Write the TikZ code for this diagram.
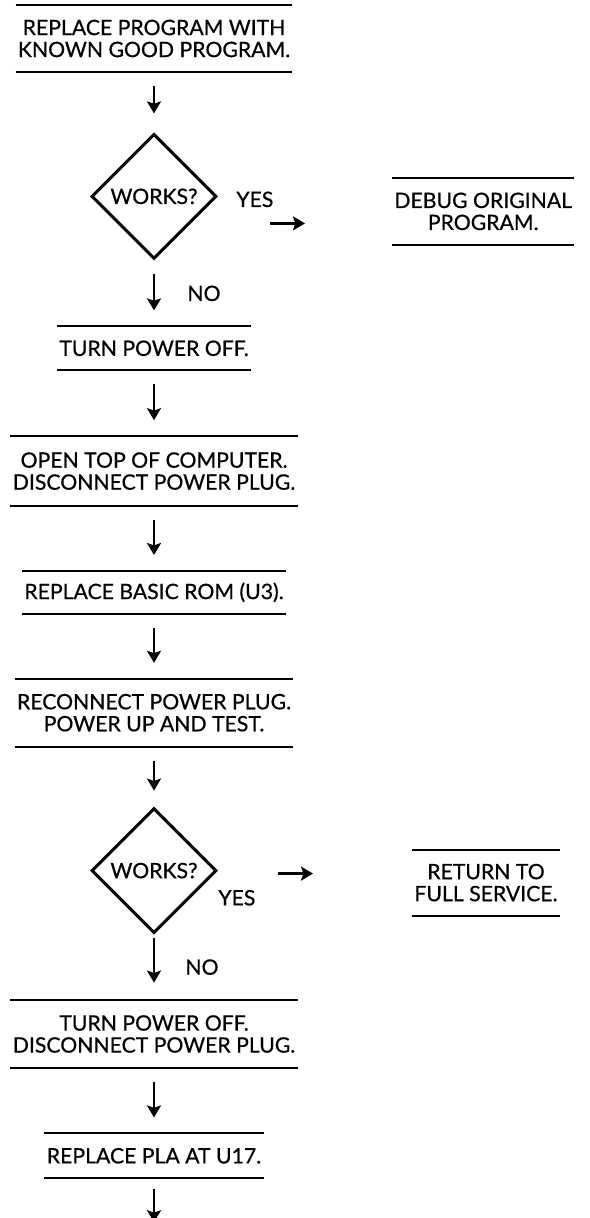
\documentclass[tikz,border=0pt]{standalone}
\usepackage{fontspec}
\setmainfont{Lato}[UprightFeatures={FakeBold=0.6}]
\usetikzlibrary{arrows.meta, positioning, shapes.geometric}

\begin{document}
\begin{tikzpicture}[
    every node/.style={font=\fontsize{10.6}{11}\selectfont},
    stepbox/.style={rectangle, align=center, inner xsep=1pt, inner ysep=0pt, minimum height=21.5pt},
    twoline/.style={stepbox, minimum height=33.5pt},
    decide/.style={diamond, draw, line width=1.5pt, minimum width=62.5pt, minimum height=62.5pt, inner sep=0pt},
    lbl/.style={inner sep=0pt},
    rule/.style={line width=1pt},
    arrow/.style={-{Stealth[length=6pt, width=7pt, inset=1.2pt]}, line width=1.4pt, shorten <=7pt, shorten >=8pt}
]
\useasboundingbox (-77pt,19.25pt) rectangle (217.5pt,-589.75pt);
% main column
\node[twoline] (known) {REPLACE PROGRAM WITH\\KNOWN GOOD PROGRAM.};
\node[decide, below=30pt of known] (works1) {WORKS?};
\node[stepbox, below=33pt of works1] (off1) {TURN POWER OFF.};
\node[twoline, below=33pt of off1, minimum height=34.5pt] (opentop) {OPEN TOP OF COMPUTER.\\DISCONNECT POWER PLUG.};
\node[stepbox, below=32.5pt of opentop, minimum height=21pt] (rom) {REPLACE BASIC ROM (U3).};
\node[twoline, below=32.5pt of rom] (reconn) {RECONNECT POWER PLUG.\\POWER UP AND TEST.};
\node[decide, below=30pt of reconn] (works2) {WORKS?};
\node[twoline, below=32.5pt of works2, minimum height=34pt] (off2) {TURN POWER OFF.\\DISCONNECT POWER PLUG.};
\node[stepbox, below=32.5pt of off2, minimum height=22pt] (pla) {REPLACE PLA AT U17.};
\coordinate[below=23pt of pla] (tail);
% side column
\node[twoline, right=87pt of works1, yshift=-7.5pt, minimum height=33pt] (debug) {DEBUG ORIGINAL\\PROGRAM.};
\node[twoline, right=97pt of works2, yshift=-6pt, minimum height=32.5pt] (ret) {RETURN TO\\FULL SERVICE.};
\node[lbl, right=9pt of works1.east, yshift=-1.5pt] (yes1) {YES};
\node[lbl, anchor=north west] (yes2) at ([yshift=-9.5pt]works2.east) {YES};
% rules above and below each step
\foreach \b in {known, debug, off1, opentop, rom, reconn, ret, off2, pla}
  \draw[rule] (\b.north west) -- (\b.north east) (\b.south west) -- (\b.south east);
% arrows
\draw[arrow, shorten >=9.5pt] (known) -- (works1);
\draw[arrow] (works1) -- node[lbl, right=16pt] (no1) {NO} (off1);
\draw[arrow] (off1) -- (opentop);
\draw[arrow] (opentop) -- (rom);
\draw[arrow] (rom) -- (reconn);
\draw[arrow] (reconn) -- (works2);
\draw[arrow, shorten <=1.5pt, shorten >=8.5pt] (works2) -- node[lbl, right=15pt] (no2) {NO} (off2);
\draw[arrow] (off2) -- (pla);
\draw[arrow, shorten <=5.5pt, shorten >=1pt] (pla) -- (tail);
\draw[arrow, shorten <=26pt, shorten >=43.5pt] ([yshift=-13.5pt]works1.east) -- ([yshift=-13.5pt]works1.east -| debug.west);
\draw[arrow, shorten <=30pt, shorten >=49.5pt] ([yshift=-1.5pt]works2.east) -- ([yshift=-1.5pt]works2.east -| ret.west);
\end{tikzpicture}
\end{document}
